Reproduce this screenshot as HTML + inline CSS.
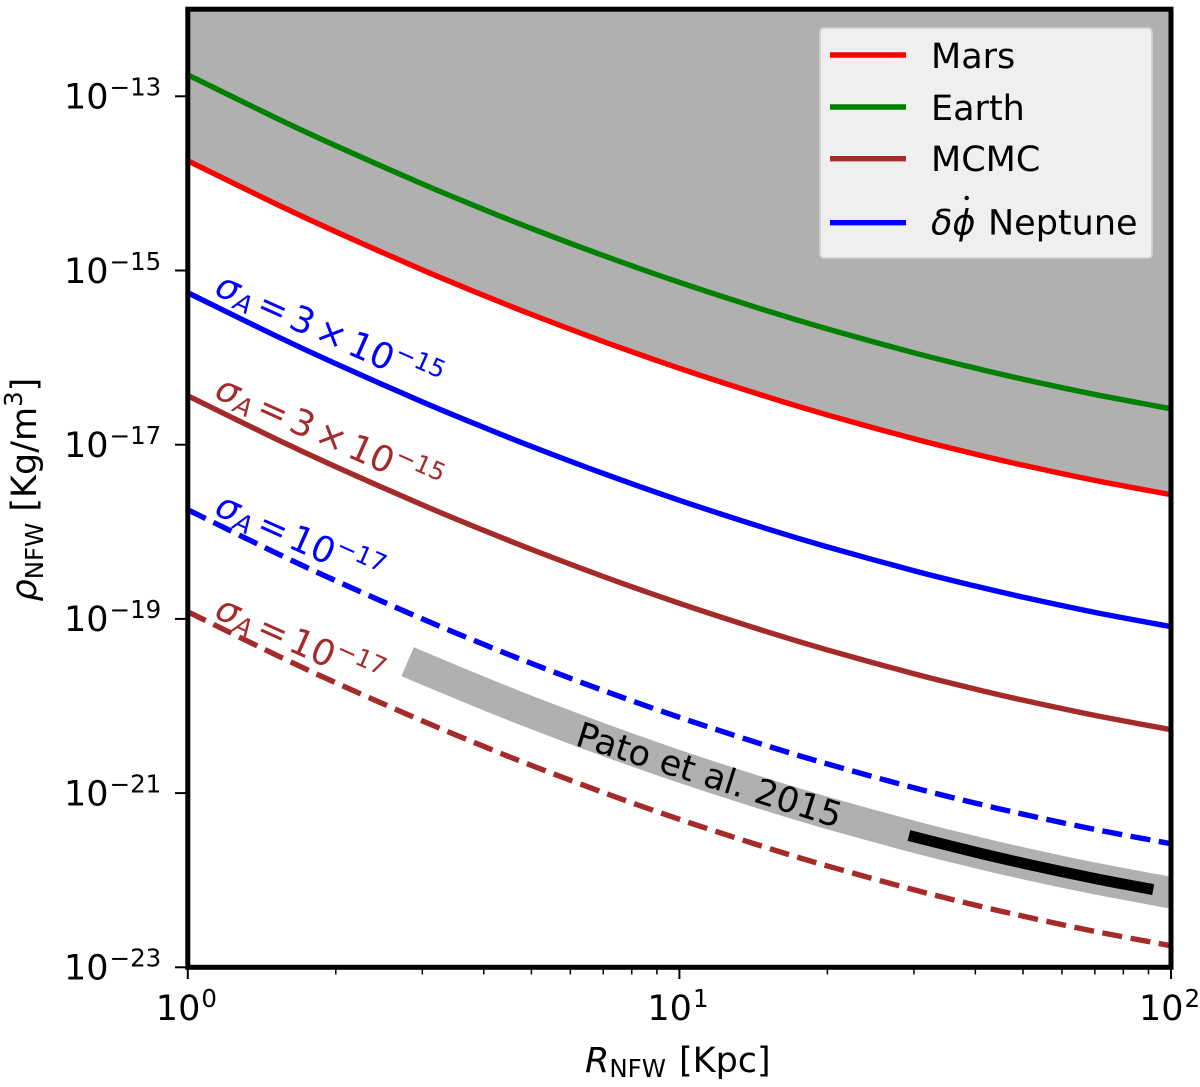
<!DOCTYPE html>
<html lang="en">
<head>
<meta charset="utf-8">
<title>NFW density constraints</title>
<style>
html,body{margin:0;padding:0;background:#fff;}
svg{display:block;font-family:"DejaVu Sans","Liberation Sans",sans-serif;}
.it{font-style:italic;}
</style>
</head>
<body>
<svg id="chart" xmlns="http://www.w3.org/2000/svg" width="1200" height="1087" viewBox="0 0 1200 1087">
  <defs><clipPath id="plot-clip"><rect x="187.8" y="9.2" width="983.2" height="958.1"/></clipPath></defs>
  <rect x="0" y="0" width="1200" height="1087" fill="#fff"/>
  <g id="marks" clip-path="url(#plot-clip)"></g>

  <g font-size="36">
    <text transform="translate(213,294) rotate(24)" fill="#0000ff"><tspan class="it">σ</tspan><tspan class="it" font-size="25" dy="5">A</tspan><tspan dy="-5" dx="5.5">=</tspan><tspan dx="5.5">3</tspan><tspan dx="5.5">×</tspan><tspan dx="5.5">10</tspan><tspan font-size="24.5" dy="-15">−15</tspan></text>
    <text transform="translate(213,397) rotate(24)" fill="#a52a2a"><tspan class="it">σ</tspan><tspan class="it" font-size="25" dy="5">A</tspan><tspan dy="-5" dx="5.5">=</tspan><tspan dx="5.5">3</tspan><tspan dx="5.5">×</tspan><tspan dx="5.5">10</tspan><tspan font-size="24.5" dy="-15">−15</tspan></text>
    <text transform="translate(213,514) rotate(24)" fill="#0000ff"><tspan class="it">σ</tspan><tspan class="it" font-size="25" dy="5">A</tspan><tspan dy="-5" dx="5.5">=</tspan><tspan dx="5">10</tspan><tspan font-size="24.5" dy="-15">−17</tspan></text>
    <text transform="translate(213,617) rotate(24)" fill="#a52a2a"><tspan class="it">σ</tspan><tspan class="it" font-size="25" dy="5">A</tspan><tspan dy="-5" dx="5.5">=</tspan><tspan dx="5">10</tspan><tspan font-size="24.5" dy="-15">−17</tspan></text>
    <text transform="translate(574,745) rotate(17.5)" font-size="35" fill="#000">Pato et al. 2015</text>
  </g>

  <g>
    <rect x="820" y="28" width="332" height="230" rx="4" ry="4" fill="#efefef" stroke="#d0d0d0" stroke-width="1.7"/>
    <g>
      <line x1="830" x2="906" y1="55" y2="55" stroke="#ff0000" stroke-width="5.4"/>
      <text x="931" y="68" font-size="35">Mars</text>
    </g>
    <g>
      <line x1="830" x2="906" y1="107" y2="107" stroke="#008000" stroke-width="5.4"/>
      <text x="931" y="120" font-size="35">Earth</text>
    </g>
    <g>
      <line x1="830" x2="906" y1="158.7" y2="158.7" stroke="#a52a2a" stroke-width="5.4"/>
      <text x="931" y="171" font-size="35">MCMC</text>
    </g>
    <g>
      <line x1="830" x2="906" y1="222.7" y2="222.7" stroke="#0000ff" stroke-width="5.4"/>
      <text x="931" y="234.5" font-size="35"><tspan class="it">δϕ</tspan><tspan x="988">Neptune</tspan></text>
      <circle cx="966.7" cy="198" r="2.2" fill="#000"/>
    </g>
  </g>

  <g id="axes"></g>

  <text x="585" y="1072" font-size="35"><tspan class="it">R</tspan><tspan font-size="24.5" dy="5">NFW</tspan><tspan dy="-5" dx="13">[Kpc]</tspan></text>
  <text transform="translate(36,601.5) rotate(-90)" font-size="35"><tspan class="it">ρ</tspan><tspan font-size="24.5" dy="7">NFW</tspan><tspan dy="-7" dx="11">[Kg/m</tspan><tspan font-size="24.5" dy="-14">3</tspan><tspan dy="14">]</tspan></text>
</svg>

<script>
// Radius grid in Kpc
const radiusKpc = [1, 1.5, 2, 3, 4, 5, 7, 10, 15, 20, 30, 40, 50, 70, 100];
// log10 of density in Kg/m^3 at each radius
const marsLogRho = [-13.74, -14.227, -14.555, -14.993, -15.286, -15.504, -15.815, -16.123, -16.446, -16.658, -16.932, -17.108, -17.235, -17.41, -17.574];
const earthLogRho = [-12.753, -13.24, -13.568, -14.006, -14.299, -14.517, -14.828, -15.136, -15.459, -15.671, -15.945, -16.121, -16.248, -16.423, -16.587];
const blueSolidLogRho = [-15.255, -15.742, -16.07, -16.508, -16.801, -17.019, -17.33, -17.638, -17.961, -18.173, -18.447, -18.623, -18.75, -18.925, -19.089];
const brownSolidLogRho = [-16.438, -16.925, -17.253, -17.691, -17.984, -18.202, -18.513, -18.821, -19.144, -19.356, -19.63, -19.806, -19.933, -20.108, -20.272];
const blueDashedLogRho = [-17.747, -18.234, -18.562, -19, -19.293, -19.511, -19.822, -20.13, -20.453, -20.665, -20.939, -21.115, -21.242, -21.417, -21.581];
const brownDashedLogRho = [-18.918, -19.405, -19.733, -20.171, -20.464, -20.682, -20.993, -21.301, -21.624, -21.836, -22.11, -22.286, -22.413, -22.588, -22.752];
// Pato et al. 2015 band and its black core segment
const patoRadiusKpc = [2.8, 3, 4, 5, 7, 10, 15, 20, 30, 40, 50, 70, 100];
const patoLogRho = [-19.49, -19.563, -19.856, -20.074, -20.385, -20.693, -21.016, -21.228, -21.502, -21.678, -21.805, -21.98, -22.144];
const coreRadiusKpc = [29.3, 40, 50, 70, 92];
const coreLogRho = [-21.487, -21.678, -21.805, -21.98, -22.108];
// Axis ticks
const xTickExponents = [0, 1, 2];
const xMinorMultipliers = [2, 3, 4, 5, 6, 7, 8, 9];
const yTickExponents = [-13, -15, -17, -19, -21, -23];
const xDomainLog = [0, 2];
const yDomainLog = [-23, -12];

const SVG_NS = 'http://www.w3.org/2000/svg';
const plot = {left: 187.8, right: 1171, top: 9.2, bottom: 967.3};

function xScale(r) {
  return plot.left + (Math.log10(r) - xDomainLog[0]) / (xDomainLog[1] - xDomainLog[0]) * (plot.right - plot.left);
}
function yScale(logRho) {
  return plot.bottom - (logRho - yDomainLog[0]) / (yDomainLog[1] - yDomainLog[0]) * (plot.bottom - plot.top);
}
function smoothPath(xs, ys) {
  const p = xs.map((r, i) => [xScale(r), yScale(ys[i])]);
  let d = 'M' + p[0][0].toFixed(2) + ' ' + p[0][1].toFixed(2);
  for (let i = 0; i < p.length - 1; i++) {
    const a = p[Math.max(0, i - 1)], b = p[i], c = p[i + 1], e = p[Math.min(p.length - 1, i + 2)];
    const c1x = b[0] + (c[0] - a[0]) / 6, c1y = b[1] + (c[1] - a[1]) / 6;
    const c2x = c[0] - (e[0] - b[0]) / 6, c2y = c[1] - (e[1] - b[1]) / 6;
    d += 'C' + c1x.toFixed(2) + ' ' + c1y.toFixed(2) + ' ' + c2x.toFixed(2) + ' ' + c2y.toFixed(2) + ' ' + c[0].toFixed(2) + ' ' + c[1].toFixed(2);
  }
  return d;
}
const marks = document.getElementById('marks');
const axes = document.getElementById('axes');

function addCurve(name, xs, ys, color, width, dash) {
  const el = document.createElementNS(SVG_NS, 'path');
  
  
  el.setAttribute('d', smoothPath(xs, ys));
  el.setAttribute('fill', 'none');
  el.setAttribute('stroke', color);
  el.setAttribute('stroke-width', width);
  if (dash) el.setAttribute('stroke-dasharray', dash);
  marks.appendChild(el);
}
function addTick(name, x1, y1, x2, y2, width) {
  const el = document.createElementNS(SVG_NS, 'line');
  
  
  el.setAttribute('x1', x1);
  el.setAttribute('y1', y1);
  el.setAttribute('x2', x2);
  el.setAttribute('y2', y2);
  el.setAttribute('stroke', '#000');
  el.setAttribute('stroke-width', width);
  axes.appendChild(el);
}
function addPowerLabel(name, x, y, exponentText, supDx) {
  const el = document.createElementNS(SVG_NS, 'text');
  
  
  el.setAttribute('x', x);
  el.setAttribute('y', y);
  el.setAttribute('font-size', '35');
  el.setAttribute('fill', '#000');
  const base = document.createElementNS(SVG_NS, 'tspan');
  base.textContent = '10';
  const sup = document.createElementNS(SVG_NS, 'tspan');
  sup.setAttribute('font-size', '24.5');
  sup.setAttribute('dy', '-13');
  sup.setAttribute('dx', supDx);
  sup.textContent = exponentText;
  el.appendChild(base);
  el.appendChild(sup);
  axes.appendChild(el);
}

// Shaded exclusion region above the Mars curve
const exclusion = document.createElementNS(SVG_NS, 'path');


exclusion.setAttribute('d', smoothPath(radiusKpc, marsLogRho) + 'L' + xScale(radiusKpc[radiusKpc.length - 1]) + ' ' + yScale(yDomainLog[1]) + 'L' + xScale(radiusKpc[0]) + ' ' + yScale(yDomainLog[1]) + 'Z');
exclusion.setAttribute('fill', '#b0b0b0');
marks.appendChild(exclusion);

addCurve('pato-2015-band', patoRadiusKpc, patoLogRho, '#b0b0b0', 31.5);
addCurve('pato-2015-core', coreRadiusKpc, coreLogRho, '#000', 11);
addCurve('line-earth', radiusKpc, earthLogRho, '#008000', 5.4);
addCurve('line-mars', radiusKpc, marsLogRho, '#ff0000', 5.4);
addCurve('line-neptune-solid', radiusKpc, blueSolidLogRho, '#0000ff', 5.4);
addCurve('line-mcmc-solid', radiusKpc, brownSolidLogRho, '#a52a2a', 5.4);
addCurve('line-neptune-dashed', radiusKpc, blueDashedLogRho, '#0000ff', 5.4, '20 8.6');
addCurve('line-mcmc-dashed', radiusKpc, brownDashedLogRho, '#a52a2a', 5.4, '20 8.6');

// Axis ticks and labels
xTickExponents.forEach(function (exp) {
  const x = xScale(Math.pow(10, exp));
  addTick('x-major-tick', x, plot.bottom, x, 979, 2);
  addPowerLabel('x-tick-label', x - 32, 1020, String(exp), 1);
  if (exp < xDomainLog[1]) {
    xMinorMultipliers.forEach(function (m) {
      const xm = xScale(m * Math.pow(10, exp));
      addTick('x-minor-tick', xm, plot.bottom, xm, 974.5, 1.5);
    });
  }
});
yTickExponents.forEach(function (exp) {
  const y = yScale(exp);
  addTick('y-major-tick', 175, y, plot.left, y, 2);
  addPowerLabel('y-tick-label', 64, y + 12.3, '−' + String(-exp), 1);
});

// Spines on top of everything in the plot area
const spines = document.createElementNS(SVG_NS, 'rect');


spines.setAttribute('x', plot.left);
spines.setAttribute('y', plot.top);
spines.setAttribute('width', plot.right - plot.left);
spines.setAttribute('height', plot.bottom - plot.top);
spines.setAttribute('fill', 'none');
spines.setAttribute('stroke', '#000');
spines.setAttribute('stroke-width', '5');
axes.appendChild(spines);
</script>
</body>
</html>
